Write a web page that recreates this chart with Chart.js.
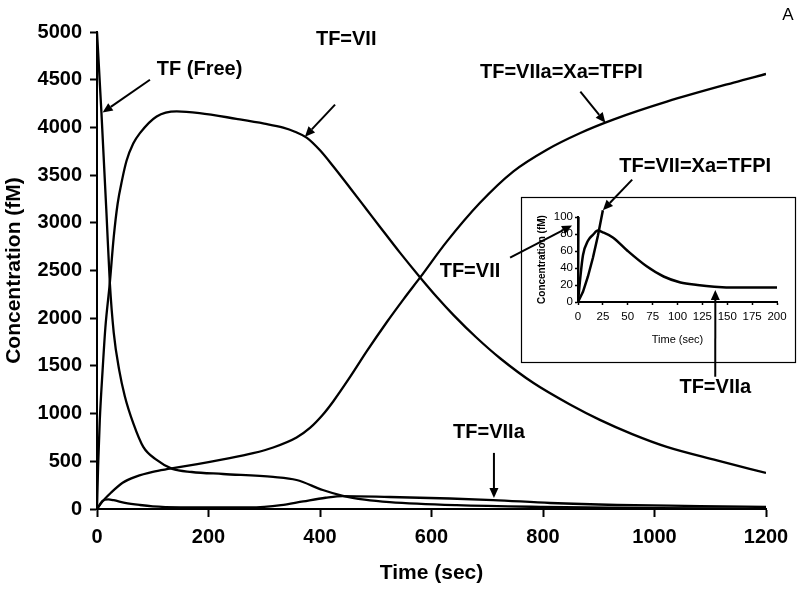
<!DOCTYPE html>
<html>
<head>
<meta charset="utf-8">
<script src="https://cdn.jsdelivr.net/npm/chart.js@4.4.0/dist/chart.umd.min.js"></script>
<style>
  html, body { margin: 0; padding: 0; background: #fff; }
  #wrap { position: relative; width: 800px; height: 592px; }
  #wrap canvas { position: absolute; left: 0; top: 0; }
</style>
</head>
<body>
<div id="wrap">
  <canvas id="main" width="800" height="592"></canvas>
  <canvas id="inset" width="800" height="592"></canvas>
</div>
<script>
const FONT = "'Liberation Sans', Arial, Helvetica, sans-serif";

// main panel ticks
const xTickValues = [0, 200, 400, 600, 800, 1000, 1200];
const yTickValues = [0, 500, 1000, 1500, 2000, 2500, 3000, 3500, 4000, 4500, 5000];

// main panel series (time in sec, concentration in fM)
const tfFreeTime = [0, 8, 17, 23, 30, 40, 50, 65, 83, 107, 135, 170, 226, 316, 358, 405, 441, 480, 525, 645, 800, 1000, 1200];
const tfFreeConc = [5000, 4150, 3100, 2371, 1850, 1450, 1180, 900, 651, 514, 420, 388, 367, 336, 304, 199, 138, 98, 72, 40, 22, 10, 4];

const tfVIITime = [0, 2, 5, 10, 15, 23, 30, 37, 45, 53, 65, 77, 107, 143, 184, 250, 300, 334, 355, 376, 400, 424, 454, 484, 507, 543, 580, 610, 640, 680, 723, 783, 850, 902, 960, 1022, 1112, 1200];
const tfVIIConc = [0, 450, 930, 1450, 1900, 2371, 2850, 3200, 3450, 3650, 3830, 3940, 4115, 4168, 4150, 4090, 4040, 3998, 3955, 3893, 3760, 3590, 3365, 3137, 2962, 2690, 2425, 2220, 2030, 1800, 1580, 1320, 1090, 934, 785, 651, 510, 378];

const tfVIIaXaTime = [0, 10, 25, 46, 70, 100, 131, 180, 226, 280, 316, 358, 382, 405, 424, 454, 484, 520, 550, 580, 627, 687, 747, 807, 867, 926, 1022, 1142, 1200];
const tfVIIaXaConc = [0, 80, 170, 275, 340, 390, 422, 470, 520, 585, 645, 750, 850, 988, 1130, 1384, 1654, 1960, 2200, 2430, 2800, 3210, 3540, 3767, 3942, 4082, 4270, 4470, 4560];

const tfVIIaTime = [0, 10, 20, 30, 50, 77, 100, 150, 200, 273, 300, 330, 370, 410, 441, 525, 633, 711, 813, 933, 1082, 1200];
const tfVIIaConc = [0, 85, 100, 92, 65, 42, 28, 18, 17, 16, 22, 40, 80, 118, 136, 126, 110, 94, 63, 42, 31, 21];

// inset panel: first 200 sec
const insetXTicks = [0, 25, 50, 75, 100, 125, 150, 175, 200];
const insetYTicks = [0, 20, 40, 60, 80, 100];

const insetVIIaTime = [0, 2, 5, 10, 15, 20, 25, 35, 50, 69, 86, 103, 120, 137, 160, 200];
const insetVIIaConc = [0, 25, 55, 72, 79, 84, 82, 76, 60, 42, 30, 23, 20, 18, 17, 17];

const insetVIIXaTime = [0, 5, 10, 15, 20, 25];
const insetVIIXaConc = [0, 12, 30, 52, 78, 108];

const pts = (t, v) => t.map((x, i) => ({ x: x, y: v[i] }));

const line = (data, extra) => Object.assign({
  data: data,
  borderColor: '#000',
  borderWidth: 2.3,
  pointRadius: 0,
  fill: false,
  cubicInterpolationMode: 'monotone'
}, extra || {});

const setTicks = (arr) => (scale) => { scale.ticks = arr.map(v => ({ value: v })); };

const mainChart = new Chart(document.getElementById('main'), {
  type: 'line',
  data: {
    datasets: [
      line(pts(tfFreeTime, tfFreeConc)),
      line(pts(tfVIITime, tfVIIConc)),
      line(pts(tfVIIaXaTime, tfVIIaXaConc)),
      line(pts(tfVIIaTime, tfVIIaConc))
    ]
  },
  options: {
    responsive: false,
    animation: false,
    events: [],
    layout: { padding: { left: 0, top: 32, right: 34, bottom: 0 } },
    plugins: { legend: { display: false }, tooltip: { enabled: false } },
    scales: {
      x: {
        type: 'linear', min: 0, max: 1200,
        afterBuildTicks: setTicks(xTickValues),
        afterFit: (s) => { s.height = 83; s.paddingLeft = 0; s.paddingRight = 0; },
        ticks: { color: '#000', font: { family: FONT, size: 20, weight: 'bold' }, padding: 8, maxRotation: 0, autoSkip: false, callback: v => String(v) },
        grid: { drawOnChartArea: false, drawTicks: true, tickLength: 8, tickColor: '#000', tickWidth: 2 },
        border: { color: '#000', width: 2 },
        title: { display: true, text: 'Time (sec)', color: '#000', font: { family: FONT, size: 21, weight: 'bold' }, padding: { top: 0, bottom: 6 } }
      },
      y: {
        type: 'linear', min: 0, max: 5000,
        afterBuildTicks: setTicks(yTickValues),
        afterFit: (s) => { s.width = 97; s.paddingTop = 0; s.paddingBottom = 0; },
        ticks: { color: '#000', font: { family: FONT, size: 20, weight: 'bold' }, padding: 8, autoSkip: false, callback: v => String(v) },
        grid: { drawOnChartArea: false, drawTicks: true, tickLength: 7, tickColor: '#000', tickWidth: 2 },
        border: { color: '#000', width: 2 },
        title: { display: true, text: 'Concentration (fM)', color: '#000', font: { family: FONT, size: 21, weight: 'bold' }, padding: { top: 2, bottom: 0 } }
      }
    }
  },
  plugins: [{
    id: 'panelLetter',
    afterDraw(chart) {
      const ctx = chart.ctx;
      ctx.save();
      ctx.fillStyle = '#000';
      ctx.font = '17px ' + FONT;
      ctx.textAlign = 'center';
      ctx.textBaseline = 'middle';
      ctx.fillText('A', chart.chartArea.right + 22, chart.chartArea.top - 17);
      ctx.restore();
    }
  }]
});

// inset frame in page pixels
const insetBox = { left: 521, top: 197, right: 795, bottom: 362 };

// callouts: label centre and arrow start in main data coords, tip in 'main' or 'inset' coords
const callouts = [
  { text: 'TF (Free)', at: [184, 4606], from: [95, 4500], tip: [10, 4155], on: 'main' },
  { text: 'TF=VII', at: [447, 4921], from: [427, 4239], tip: [373, 3903], on: 'main' },
  { text: 'TF=VIIa=Xa=TFPI', at: [833, 4575], from: [867, 4376], tip: [912, 4050], on: 'main' },
  { text: 'TF=VII=Xa=TFPI', at: [1073, 3589], from: [960, 3452], tip: [25, 108], on: 'inset' },
  { text: 'TF=VII', at: [669, 2487], from: [741, 2634], tip: [-6, 90], on: 'inset' },
  { text: 'TF=VIIa', at: [1109, 1270], from: [1109, 1385], tip: [138, 14], on: 'inset' },
  { text: 'TF=VIIa', at: [703, 797], from: [712, 588], tip: [712, 115], on: 'main' }
];

function arrow(ctx, x0, y0, x1, y1) {
  const a = Math.atan2(y1 - y0, x1 - x0);
  const len = 10, half = 4.5;
  const bx = x1 - len * Math.cos(a), by = y1 - len * Math.sin(a);
  ctx.beginPath();
  ctx.moveTo(x0, y0);
  ctx.lineTo(bx, by);
  ctx.stroke();
  ctx.beginPath();
  ctx.moveTo(x1, y1);
  ctx.lineTo(bx + half * Math.sin(a), by - half * Math.cos(a));
  ctx.lineTo(bx - half * Math.sin(a), by + half * Math.cos(a));
  ctx.closePath();
  ctx.fill();
}

const insetChart = new Chart(document.getElementById('inset'), {
  type: 'line',
  data: {
    datasets: [
      line(pts(tfVIITime, tfVIIConc), { borderWidth: 2.5 }),
      line(pts(insetVIIXaTime, insetVIIXaConc), { borderWidth: 2.5, cubicInterpolationMode: 'default', tension: 0, clip: { left: 2, top: 12, right: 2, bottom: 2 } }),
      line(pts(insetVIIaTime, insetVIIaConc), { borderWidth: 2.5 })
    ]
  },
  options: {
    responsive: false,
    animation: false,
    events: [],
    layout: { padding: { left: insetBox.left, top: 217, right: 23, bottom: 592 - insetBox.bottom } },
    plugins: { legend: { display: false }, tooltip: { enabled: false } },
    scales: {
      x: {
        type: 'linear', min: 0, max: 200,
        afterBuildTicks: setTicks(insetXTicks),
        afterFit: (s) => { s.height = 60; s.paddingLeft = 0; s.paddingRight = 0; },
        ticks: { color: '#000', font: { family: FONT, size: 11.5 }, padding: 5, maxRotation: 0, autoSkip: false, callback: v => String(v) },
        grid: { drawOnChartArea: false, drawTicks: true, tickLength: 3, tickColor: '#000', tickWidth: 1.5 },
        border: { color: '#000', width: 2 },
        title: { display: true, text: 'Time (sec)', color: '#000', font: { family: FONT, size: 11 }, padding: { top: 0, bottom: 15 } }
      },
      y: {
        type: 'linear', min: 0, max: 100,
        afterBuildTicks: setTicks(insetYTicks),
        afterFit: (s) => { s.width = 57; s.paddingTop = 0; s.paddingBottom = 0; },
        ticks: { color: '#000', font: { family: FONT, size: 11.5 }, padding: 2, autoSkip: false, callback: v => String(v) },
        grid: { drawOnChartArea: false, drawTicks: true, tickLength: 3, tickColor: '#000', tickWidth: 1.5 },
        border: { color: '#000', width: 2 },
        title: { display: true, text: 'Concentration (fM)', color: '#000', font: { family: FONT, size: 10, weight: 'bold' }, padding: { top: 15, bottom: 0 } }
      }
    }
  },
  plugins: [{
    id: 'insetFrame',
    beforeDraw(chart) {
      const ctx = chart.ctx;
      ctx.save();
      ctx.fillStyle = '#fff';
      ctx.fillRect(insetBox.left, insetBox.top, insetBox.right - insetBox.left, insetBox.bottom - insetBox.top);
      ctx.strokeStyle = '#000';
      ctx.lineWidth = 1.2;
      ctx.strokeRect(insetBox.left + 0.5, insetBox.top + 0.5, insetBox.right - insetBox.left, insetBox.bottom - insetBox.top);
      ctx.restore();
    }
  }, {
    id: 'callouts',
    afterDraw(chart) {
      const ctx = chart.ctx;
      const mx = mainChart.scales.x, my = mainChart.scales.y;
      const ix = chart.scales.x, iy = chart.scales.y;
      const M = p => [mx.getPixelForValue(p[0]), my.getPixelForValue(p[1])];
      const I = p => [ix.getPixelForValue(p[0]), iy.getPixelForValue(p[1])];
      ctx.save();
      ctx.fillStyle = '#000';
      ctx.strokeStyle = '#000';
      ctx.lineWidth = 2;
      ctx.font = 'bold 20px ' + FONT;
      ctx.textAlign = 'center';
      ctx.textBaseline = 'middle';
      callouts.forEach(c => {
        const at = M(c.at), from = M(c.from);
        const tip = c.on === 'inset' ? I(c.tip) : M(c.tip);
        ctx.fillText(c.text, at[0], at[1]);
        arrow(ctx, from[0], from[1], tip[0], tip[1]);
      });
      ctx.restore();
    }
  }]
});
</script>
</body>
</html>
